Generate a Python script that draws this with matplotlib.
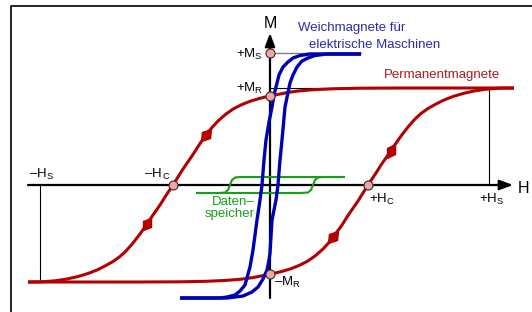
import numpy as np
import matplotlib
matplotlib.use('Agg')
import matplotlib.pyplot as plt
from matplotlib.markers import MarkerStyle
from matplotlib.transforms import Affine2D

plt.rcParams['font.family'] = ['Liberation Sans', 'DejaVu Sans']
plt.rcParams['mathtext.fontset'] = 'custom'
plt.rcParams['mathtext.rm'] = 'Liberation Sans'
plt.rcParams['mathtext.it'] = 'Liberation Sans:italic'

# Permanentmagnete (rot): absteigender und aufsteigender Ast
perm_ab_H = [244, 130, 90, 65, 45, 30, 18, 8, 0, -10, -20, -28, -36, -44, -52, -58, -64, -70, -77, -87,
             -97, -105, -110, -117, -123, -130, -137, -144, -150, -157, -165, -173, -182, -192, -203,
             -215, -228, -242]
perm_ab_M = [97, 97, 96.8, 96.3, 95.4, 94.2, 92.6, 90.6, 89.2, 86.7, 83.7, 80.5, 76.5, 71, 64, 57.5, 50, 41.5,
             30.5, 16, 0, -12, -20, -30, -39, -49, -58, -66, -71.5, -76.5, -81, -85, -88.5, -91.5, -94,
             -95.8, -96.8, -97]
perm_auf_H = [-242, -130, -89, -64, -44, -29, -17, -7, 0, 11, 21, 29, 37, 45, 53, 59, 63, 71, 78, 88,
              98, 106, 111, 118, 121, 124, 131, 138, 145, 151, 158, 166, 174, 183, 193, 204, 216, 229, 244]
perm_auf_M = [-97, -97, -96.8, -96.3, -95.4, -94.2, -92.6, -90.6, -89.2, -86.7, -83.7, -80.5, -76.5, -71,
              -64, -57.5, -52, -41.5, -30.5, -16, 0, 12, 20, 30, 34.5, 39, 49, 58, 66, 71.5, 76.5, 81, 85,
              88.5, 91.5, 94, 95.8, 96.8, 97]

# Weichmagnete (blau)
weich_ab_H = [91, 40, 30, 23, 18, 13, 9, 7, 4, 2, -1, -4, -6, -8, -10, -13, -17, -20, -25, -30, -35, -43, -50, -90]
weich_ab_M = [131, 131, 129.5, 127, 123, 118, 110, 102, 90, 78, 63, 45, 25, 0, -15, -35, -65, -82, -100, -106,
              -110, -112, -113, -113]
weich_auf_H = [-90, -43, -27, -18, -12, -7, -3, -1, 0, 2, 6, 8, 10, 12, 15, 20, 23, 27, 32, 38, 45, 57, 91]
weich_auf_M = [-113, -113, -111, -107, -102, -94, -85, -75, -68, -35, -15, 0, 25, 45, 78, 102, 110, 118, 124,
               127, 129.5, 131, 131]

# Datenspeicher (gruen)
daten_auf_H = [-74, 30, 38, 41, 43, 45, 48, 53, 75]
daten_auf_M = [-8, -8, -7.5, -5, 0, 5, 7.5, 8, 8]
daten_ab_H = [75, -30, -35, -38, -40, -42, -45, -50, -74]
daten_ab_M = [8, 8, 7.5, 5, 0, -5, -7.5, -8, -8]

# Kennwerte
Hc = [-97, 98]
Hs = [-230, 219]
Mr = [89.2, -89.2]
Ms = 132
M_sat_perm = 97
H_ms_end = 91

rot = '#b30000'
blau = '#0000b4'
gruen = '#16a016'

fig = plt.figure(figsize=(5.32, 3.12), dpi=100)
ax = fig.add_axes([0, 0, 1, 1])
ax.set_xlim(-270, 262)
ax.set_ylim(-127, 185)
ax.axis('off')

# Rahmen
ax.plot([-259, -259, 262], [-127, 179, 179], color='black', lw=1.2, solid_capstyle='butt')

# Hilfslinien
ax.plot([0, H_ms_end], [Ms, Ms], color='#808080', lw=1.0, zorder=1)
ax.plot([0, Hs[1], Hs[1]], [M_sat_perm, M_sat_perm, 0], color='black', lw=0.8, zorder=1)
ax.plot([Hs[0], Hs[0]], [0, -M_sat_perm], color='black', lw=0.8, zorder=1)

# Achsen
ax.annotate('', xy=(243, 0), xytext=(-242, 0),
            arrowprops=dict(arrowstyle='-|>,head_length=0.8,head_width=0.3', color='black', lw=1.6,
                            shrinkA=0, shrinkB=0), zorder=2)
ax.annotate('', xy=(0, 152), xytext=(0, -113),
            arrowprops=dict(arrowstyle='-|>,head_length=0.8,head_width=0.3', color='black', lw=1.6,
                            shrinkA=0, shrinkB=0), zorder=2)

# Kurven
lk = dict(solid_capstyle='butt', solid_joinstyle='round')
ax.plot(daten_auf_H, daten_auf_M, color=gruen, lw=1.5, zorder=3, **lk)
ax.plot(daten_ab_H, daten_ab_M, color=gruen, lw=1.5, zorder=3, **lk)
ax.plot(perm_ab_H, perm_ab_M, color=rot, lw=2.2, zorder=4, **lk)
ax.plot(perm_auf_H, perm_auf_M, color=rot, lw=2.2, zorder=4, **lk)
ax.plot(weich_ab_H, weich_ab_M, color=blau, lw=2.4, zorder=5, **lk)
ax.plot(weich_auf_H, weich_auf_M, color=blau, lw=2.4, zorder=5, **lk)


def pfeil(hs, ms, i):
    ang = np.degrees(np.arctan2(ms[i + 1] - ms[i - 1], hs[i + 1] - hs[i - 1]))
    mk = MarkerStyle('d', transform=Affine2D().rotate_deg(ang - 90))
    ax.plot(hs[i], ms[i], marker=mk, color=rot, markersize=8, zorder=6)


pfeil(perm_ab_H, perm_ab_M, perm_ab_H.index(-64))
pfeil(perm_ab_H, perm_ab_M, perm_ab_H.index(-123))
pfeil(perm_auf_H, perm_auf_M, perm_auf_H.index(63))
pfeil(perm_auf_H, perm_auf_M, perm_auf_H.index(121))

# Kennpunkte
pkt_H = [0, 0, 0, Hc[0], Hc[1]]
pkt_M = [Ms, Mr[0], Mr[1], 0, 0]
ax.plot(pkt_H, pkt_M, 'o', ms=6.5, mfc='#f5a3a3', mec='#303030', mew=0.8, zorder=7)

# Beschriftung
fs = 9.5
ax.text(0.5, 156.7, 'M', fontsize=11.5, ha='center', va='baseline')
ax.text(247.5, -7.7, 'H', fontsize=11.5, ha='left', va='baseline')
ax.text(-7, 127.5, '+M$_\\mathrm{S}$', fontsize=fs, ha='right', va='baseline')
ax.text(-7, 93.5, '+M$_\\mathrm{R}$', fontsize=fs, ha='right', va='baseline')
ax.text(4, -101, '–M$_\\mathrm{R}$', fontsize=fs, ha='left', va='baseline')
ax.text(-241, 7.3, '–H$_\\mathrm{S}$', fontsize=fs, ha='left', va='baseline')
ax.text(-126, 7.3, '–H$\\,{}_\\mathrm{C}$', fontsize=fs, ha='left', va='baseline')
ax.text(99, -17.7, '+H$_\\mathrm{C}$', fontsize=fs, ha='left', va='baseline')
ax.text(209, -17.7, '+H$_\\mathrm{S}$', fontsize=fs, ha='left', va='baseline')

ax.text(27.7, 153.7, 'Weichmagnete für', fontsize=fs, color='#2a2aa8', ha='left', va='baseline')
ax.text(39, 137.3, 'elektrische Maschinen', fontsize=fs, color='#2a2aa8', ha='left', va='baseline')
ax.text(114, 107.3, 'Permanentmagnete', fontsize=fs, color='#a81c1c', ha='left', va='baseline')
ax.text(-15, -19.7, 'Daten–', fontsize=fs, color=gruen, ha='right', va='baseline')
ax.text(-15, -31.7, 'speicher', fontsize=fs, color=gruen, ha='right', va='baseline')

fig.savefig('out.png', dpi=100, facecolor='white')
